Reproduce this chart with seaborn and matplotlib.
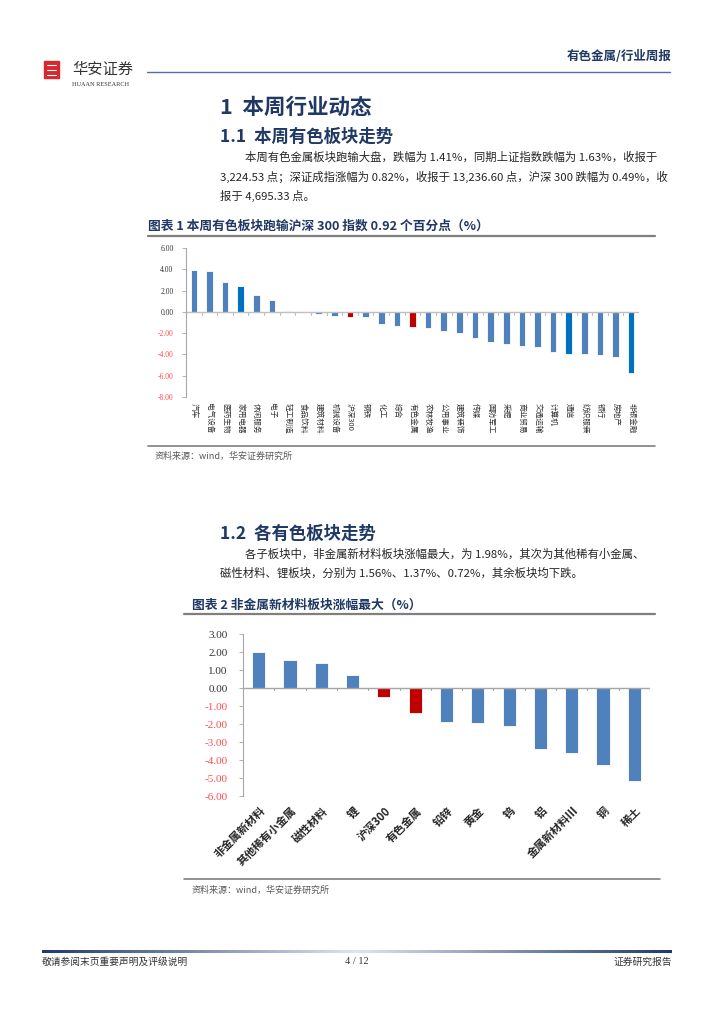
import numpy as np
import pandas as pd
import seaborn as sns
import matplotlib.pyplot as plt
from matplotlib.patches import Rectangle
from matplotlib.colors import LinearSegmentedColormap

# ---- data: chart 1 (weekly change by sector, %)
sectors = ["汽车", "电气设备", "医药生物", "家用电器", "休闲服务", "电子", "轻工制造",
           "食品饮料", "建筑材料", "机械设备", "沪深300", "钢铁", "化工", "综合",
           "有色金属", "农林牧渔", "公用事业", "建筑装饰", "传媒", "国防军工", "采掘",
           "商业贸易", "交通运输", "计算机", "通信", "纺织服装", "银行", "房地产", "非银金融"]
sector_chg = [3.90, 3.80, 2.78, 2.44, 1.63, 1.09, 0.12, 0.02, -0.20, -0.38, -0.49,
              -0.53, -1.16, -1.31, -1.41, -1.50, -1.81, -1.94, -2.44, -2.84, -3.06,
              -3.22, -3.28, -3.75, -3.94, -4.00, -4.06, -4.22, -5.75]
dark_sectors = ["家用电器", "通信", "非银金融"]
red_sectors = ["沪深300", "有色金属"]

# ---- data: chart 2 (sub-sectors, %)
subs = ["非金属新材料", "其他稀有小金属", "磁性材料", "锂", "沪深300", "有色金属",
        "铅锌", "黄金", "钨", "铝", "金属新材料Ⅲ", "铜", "稀土"]
sub_chg = [1.98, 1.56, 1.37, 0.72, -0.49, -1.41, -1.89, -1.93, -2.13, -3.39, -3.59,
           -4.28, -5.15]
red_subs = ["沪深300", "有色金属"]

BLUE, DARK, RED = "#4F81BD", "#0070C0", "#C00000"
NAVY = "#1F3864"
NEG = "#FF4D4D"

sns.set_theme(style="white")
plt.rcParams['font.family'] = ['Noto Sans CJK SC', 'DejaVu Sans']

W, H = 724, 1024
fig = plt.figure(figsize=(7.24, 10.24), dpi=100)


def fx(x):
    return x / W


def fy(y):
    return 1 - y / H


def txt(x, y, s, **kw):
    kw.setdefault("va", "center")
    fig.text(fx(x), fy(y), s, **kw)


def hline(y, x0, x1, color="#808080", lw=1.0):
    fig.add_artist(plt.Line2D([fx(x0), fx(x1)], [fy(y), fy(y)], color=color, lw=lw,
                              transform=fig.transFigure))


def axes_px(left, top, right, bottom):
    return fig.add_axes([fx(left), fy(bottom), (right - left) / W, (bottom - top) / H])


# ---- header
fig.add_artist(Rectangle((fx(44), fy(78)), 15 / W, 17 / H, color="#D7282F",
                         transform=fig.transFigure))
for dy in (65, 70, 75):
    hline(dy, 46.5, 56.5, color="white", lw=0.8)
txt(72, 69, "华安证券", fontsize=11, color="#333333", style="italic")
txt(72, 84, "HUAAN RESEARCH", fontsize=4.5, color="#333333", family="Liberation Serif")
hline(72, 147, 670, color="#4F6FA8", lw=1.0)
txt(672, 56, "有色金属/行业周报", fontsize=9, color=NAVY, weight="bold", ha="right")

# ---- section 1
txt(220, 107, "1  本周行业动态", fontsize=15.5, color=NAVY, weight="bold")
txt(220, 137, "1.1  本周有色板块走势", fontsize=12.5, color=NAVY, weight="bold")
body = dict(fontsize=8.2, color="#262626")
txt(245, 157, "本周有色金属板块跑输大盘，跌幅为 1.41%，同期上证指数跌幅为 1.63%，收报于", **body)
txt(220, 177, "3,224.53 点；深证成指涨幅为 0.82%，收报于 13,236.60 点，沪深 300 跌幅为 0.49%，收", **body)
txt(220, 196, "报于 4,695.33 点。", **body)

txt(148, 226, "图表 1 本周有色板块跑输沪深 300 指数 0.92 个百分点（%）", fontsize=9.2,
    color=NAVY, weight="bold")
hline(236, 148, 655, color="#7F7F7F", lw=1.6)

ax1 = axes_px(186, 248, 639, 397)
pal1 = {s: (DARK if s in dark_sectors else RED if s in red_sectors else BLUE) for s in sectors}
sns.barplot(x=sectors, y=sector_chg, hue=sectors, palette=pal1, legend=False,
            width=0.42, edgecolor="white", linewidth=0.6, saturation=1, ax=ax1)
ax1.set_xlim(-0.5, len(sectors) - 0.5)
ax1.set_ylim(-8, 6)
yt1 = np.arange(-8, 7, 2)
ax1.set_yticks(yt1)
ax1.set_yticklabels([f"{v:.2f}" for v in yt1], fontsize=5.5, family="Liberation Serif")
for lab, v in zip(ax1.get_yticklabels(), yt1):
    lab.set_color(NEG if v < 0 else "#333333")
ax1.axhline(0, color="#BFBFBF", lw=1)
for i in range(len(sectors) + 1):
    ax1.plot([i - 0.5, i - 0.5], [0, -0.25], color="#BFBFBF", lw=0.8)
ax1.tick_params(axis="x", length=0, pad=4, labelsize=5.5, rotation=270)
ax1.tick_params(axis="y", length=3, width=0.6, color="#A6A6A6", pad=6, left=True)
for sp in ("top", "right", "bottom"):
    ax1.spines[sp].set_visible(False)
ax1.spines["left"].set_color("#A6A6A6")
ax1.spines["left"].set_linewidth(0.8)
for lab in ax1.get_xticklabels():
    lab.set_color("#333333")

hline(446, 148, 655, color="#7F7F7F", lw=1.2)
txt(155, 456, "资料来源：wind，华安证券研究所", fontsize=6.5, color="#595959")

# ---- section 1.2
txt(220, 534, "1.2  各有色板块走势", fontsize=12.5, color=NAVY, weight="bold")
txt(245, 554, "各子板块中，非金属新材料板块涨幅最大，为 1.98%，其次为其他稀有小金属、", **body)
txt(220, 573, "磁性材料、锂板块，分别为 1.56%、1.37%、0.72%，其余板块均下跌。", **body)

txt(192, 605, "图表 2 非金属新材料板块涨幅最大（%）", fontsize=9.2, color=NAVY, weight="bold")
hline(614, 184, 655, color="#7F7F7F", lw=1.6)

ax2 = axes_px(243, 634, 650, 796)
pal2 = {s: (RED if s in red_subs else BLUE) for s in subs}
sns.barplot(x=subs, y=sub_chg, hue=subs, palette=pal2, legend=False,
            width=0.42, edgecolor="white", linewidth=0.6, saturation=1, ax=ax2)
ax2.set_xlim(-0.5, len(subs) - 0.5)
ax2.set_ylim(-6, 3)
yt2 = np.arange(-6, 4, 1)
ax2.set_yticks(yt2)
ax2.set_yticklabels([f"{v:.2f}" for v in yt2], fontsize=8, family="Liberation Serif")
for lab, v in zip(ax2.get_yticklabels(), yt2):
    lab.set_color(NEG if v < 0 else "#333333")
ax2.axhline(0, color="#A6A6A6", lw=1)
for i in range(len(subs) + 1):
    ax2.plot([i - 0.5, i - 0.5], [0, -0.12], color="#A6A6A6", lw=0.8)
ax2.tick_params(axis="x", length=0, pad=6, labelsize=8)
ax2.tick_params(axis="y", length=3, width=0.6, color="#A6A6A6", pad=8, left=True)
for lab in ax2.get_xticklabels():
    lab.set_rotation(45)
    lab.set_ha("right")
    lab.set_rotation_mode("anchor")
    lab.set_weight("bold")
    lab.set_color("#262626")
for sp in ("top", "right", "bottom"):
    ax2.spines[sp].set_visible(False)
ax2.spines["left"].set_color("#A6A6A6")
ax2.spines["left"].set_linewidth(0.8)

hline(879, 184, 660, color="#7F7F7F", lw=1.2)
txt(192, 890, "资料来源：wind，华安证券研究所", fontsize=6.5, color="#595959")

# ---- footer
grad = LinearSegmentedColormap.from_list("g", ["#1F3A6E", "#DCE6F2", "#1F3A6E"])
axg = axes_px(42, 950, 672, 953)
axg.imshow(np.linspace(0, 1, 256)[None, :], aspect="auto", cmap=grad)
axg.axis("off")
txt(42, 962, "敬请参阅末页重要声明及评级说明", fontsize=7, color="#333333")
txt(357, 962, "4 / 12", fontsize=7.5, color="#333333", ha="center", family="Liberation Serif")
txt(672, 962, "证券研究报告", fontsize=7, color="#333333", ha="right")

fig.savefig("out.png", dpi=100)
